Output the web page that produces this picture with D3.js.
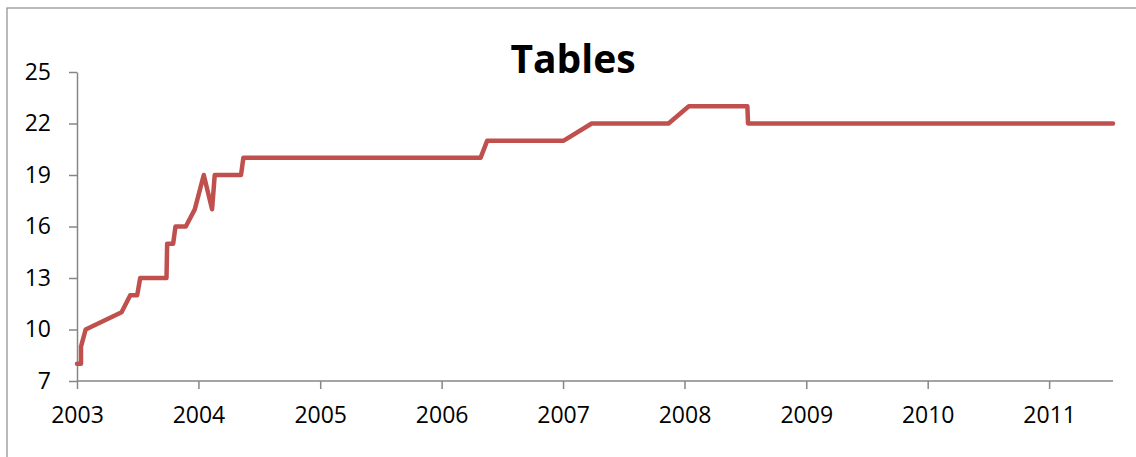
<!DOCTYPE html>
<html>
<head>
<meta charset="utf-8">
<script src="https://cdn.jsdelivr.net/npm/d3@7"></script>
<style>
  body { margin: 0; background: #fff; }
  text { font-family: "Open Sans", "Liberation Sans", sans-serif; fill: #000; }
</style>
</head>
<body>
<script>
// data: change dates and table counts
const dates = [
  "2003-01-01","2003-01-13","2003-01-13","2003-01-27","2003-05-15","2003-06-10","2003-07-01",
  "2003-07-10","2003-09-27","2003-09-29","2003-10-17","2003-10-24","2003-11-24","2003-12-21",
  "2004-01-17","2004-02-11","2004-02-19","2004-05-08","2004-05-15","2006-04-28","2006-05-18",
  "2007-01-03","2007-03-28","2007-11-14","2008-01-14","2008-07-08","2008-07-10","2011-07-12"
];
const tables = [
  8, 8, 9, 10, 11, 12, 12,
  13, 13, 15, 15, 16, 16, 17,
  19, 17, 19, 19, 20, 20, 21,
  21, 22, 22, 23, 23, 22, 22
];
const yTicks = [7, 10, 13, 16, 19, 22, 25];
const xTickYears = [2003, 2004, 2005, 2006, 2007, 2008, 2009, 2010, 2011];

const W = 1136, H = 457;
const parse = d3.timeParse("%Y-%m-%d");
const data = dates.map((d, i) => ({ date: parse(d), v: tables[i] }));

const svg = d3.select("body").append("svg").attr("width", W).attr("height", H);

// chart area frame
svg.append("rect")
  .attr("x", 7).attr("y", 8).attr("width", W + 10).attr("height", H + 10)
  .attr("fill", "none").attr("stroke", "#8c8c8c").attr("stroke-width", 1.2);

const x = d3.scaleTime()
  .domain([new Date(2003, 0, 1), new Date(2011, 6, 12)])
  .range([77, 1113]);
const y = d3.scaleLinear().domain([7, 25]).range([381, 72]);

const xAxis = svg.append("g").attr("transform", "translate(0,381)")
  .call(d3.axisBottom(x)
    .tickValues(xTickYears.map(yr => new Date(yr, 0, 1)))
    .tickFormat(d3.timeFormat("%Y"))
    .tickSizeInner(8).tickSizeOuter(0).tickPadding(18));

const yAxis = svg.append("g").attr("transform", "translate(77,0)")
  .call(d3.axisLeft(y).tickValues(yTicks).tickSizeInner(8).tickSizeOuter(0).tickPadding(18));

[xAxis, yAxis].forEach(g => {
  g.select(".domain").attr("stroke", "#868686").attr("stroke-width", 1.5);
  g.selectAll(".tick line").attr("stroke", "#868686").attr("stroke-width", 1.5);
  g.selectAll(".tick text").attr("font-size", 23).attr("fill", "#000");
});
xAxis.select(".domain").attr("d", "M77,0H1113");

const line = d3.line().x(d => x(d.date)).y(d => y(d.v));
svg.append("path").datum(data)
  .attr("d", line)
  .attr("fill", "none")
  .attr("stroke", "#C0504D")
  .attr("stroke-width", 4.5)
  .attr("stroke-linejoin", "round")
  .attr("stroke-linecap", "round");

svg.append("text")
  .attr("x", 573).attr("y", 73)
  .attr("text-anchor", "middle")
  .attr("font-size", 39).attr("font-weight", "bold")
  .text("Tables");
</script>
</body>
</html>
